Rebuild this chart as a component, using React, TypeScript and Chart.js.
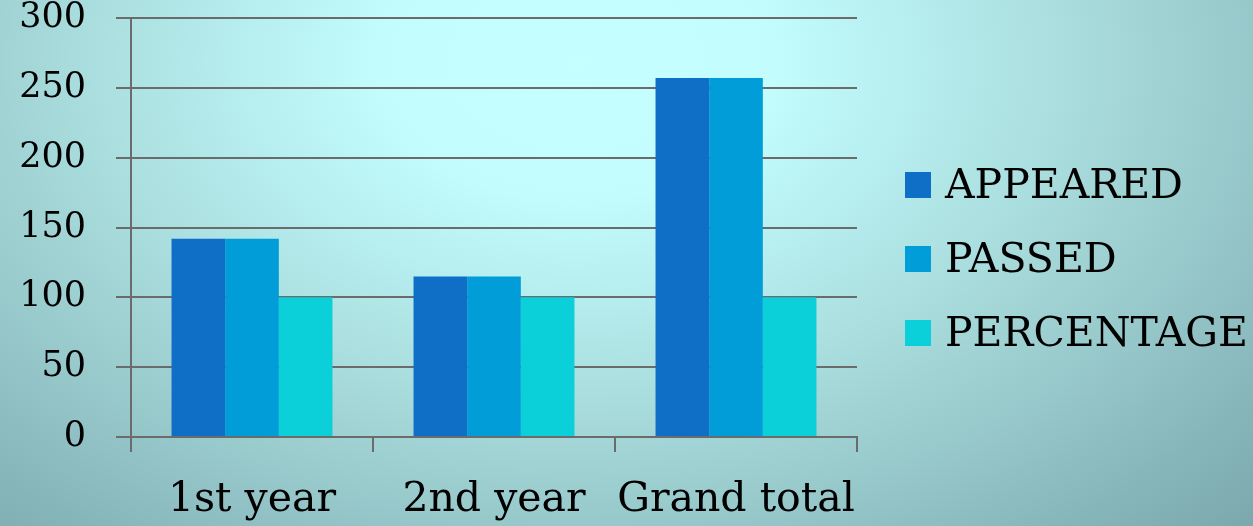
import React, { useEffect, useRef } from "react";
import { Chart, registerables } from "chart.js";

Chart.register(...registerables);

const categories = ["1st year", "2nd year", "Grand total"];
const appeared = [142, 115, 257];
const passed = [142, 115, 257];
const percentage = [100, 100, 100];
const seriesNames = ["APPEARED", "PASSED", "PERCENTAGE"];
const yTicks = [0, 50, 100, 150, 200, 250, 300];

const colors = ["#0f6fc6", "#009dd9", "#0bd0d9"];
const SERIF = "'DejaVu Serif', 'Liberation Serif', serif";

const legendPlugin = {
  id: "sideLegend",
  afterDraw(chart: any) {
    const ctx = chart.ctx;
    ctx.save();
    const rows = [185, 259, 333];
    chart.data.datasets.forEach((ds: any, i: number) => {
      const cy = rows[i];
      ctx.fillStyle = ds.backgroundColor;
      ctx.fillRect(905, cy - 13, 26, 26);
      ctx.fillStyle = "#000";
      ctx.font = `41px ${SERIF}`;
      ctx.textBaseline = "middle";
      ctx.textAlign = "left";
      ctx.fillText(ds.label, 945, cy + 2);
    });
    ctx.restore();
  },
};

export default function App() {
  const ref = useRef<HTMLCanvasElement>(null);
  useEffect(() => {
    const chart = new Chart(ref.current!, {
      type: "bar",
      data: {
        labels: categories,
        datasets: [appeared, passed, percentage].map((d, i) => ({
          label: seriesNames[i],
          data: d,
          backgroundColor: colors[i],
          borderWidth: 0,
          categoryPercentage: 0.665,
          barPercentage: 1,
        })),
      },
      options: {
        responsive: false,
        animation: false,
        layout: { padding: { left: 0, top: 18, right: 396, bottom: 0 } },
        plugins: { legend: { display: false }, tooltip: { enabled: false } },
        scales: {
          x: {
            grid: {
              offset: true,
              drawOnChartArea: false,
              drawTicks: true,
              tickLength: 15,
              color: "#6b6b6b",
              lineWidth: 2,
            },
            border: { display: true, color: "#6b6b6b", width: 2 },
            ticks: {
              color: "#000",
              font: { family: SERIF, size: 41 },
              padding: 24,
              maxRotation: 0,
              autoSkip: false,
            },
            afterFit: (s: any) => {
              s.height = 89;
              s.paddingLeft = 0;
              s.paddingRight = 0;
            },
          },
          y: {
            min: 0,
            max: 300,
            afterBuildTicks: (s: any) => {
              s.ticks = yTicks.map((v) => ({ value: v }));
            },
            grid: {
              color: "#6b6b6b",
              lineWidth: 2,
              tickLength: 15,
              drawTicks: true,
            },
            border: { display: true, color: "#6b6b6b", width: 2 },
            ticks: {
              color: "#000",
              font: { family: SERIF, size: 35 },
              padding: 30,
            },
            afterFit: (s: any) => {
              s.width = 131;
              s.paddingTop = 0;
              s.paddingBottom = 0;
            },
          },
        },
      },
      plugins: [legendPlugin],
    });
    return () => chart.destroy();
  }, []);
  return (
    <div
      style={{
        position: "fixed",
        left: 0,
        top: 0,
        width: 1253,
        height: 526,
        background:
          "radial-gradient(ellipse 80% 130% at 46% 12%, #c6ffff 0%, #c2fcfd 20%, #a9dcdd 50%, #8fbfc2 75%, #76a3a8 100%)",
      }}
    >
      <canvas ref={ref} width={1253} height={526} style={{ display: "block" }} />
    </div>
  );
}
